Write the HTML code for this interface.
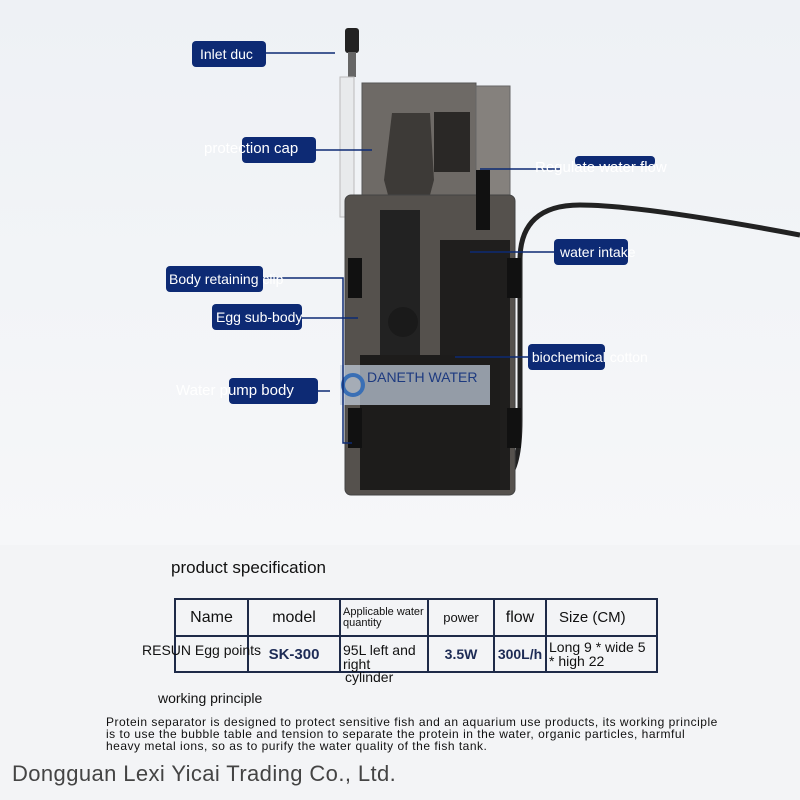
<!DOCTYPE html>
<html><head><style>
body{margin:0;width:800px;height:800px;overflow:hidden;background:#f3f4f6;font-family:"Liberation Sans",sans-serif;position:relative}
.a{position:absolute;white-space:nowrap}
.lb{position:absolute;background:#0d2a74;border-radius:4px;color:#fff;font-size:14px;line-height:26px;height:26px;white-space:nowrap}
td{border:2px solid #1e2a48;padding:0 2px;font-size:14px;color:#111;overflow:visible;white-space:nowrap}
</style></head><body>
<div class="a" style="left:0;top:0;width:800px;height:545px;background:linear-gradient(180deg,#eef1f5,#f6f7f9)"></div>
<svg class="a" style="left:0;top:0" width="800" height="545">
 <path d="M505 480 Q520 470 520 420 L520 260 Q520 205 580 205 Q640 205 800 235" fill="none" stroke="#222" stroke-width="5"/>
 <rect x="345" y="28" width="14" height="25" rx="3" fill="#222"/>
 <rect x="348" y="52" width="8" height="25" fill="#666"/>
 <rect x="340" y="77" width="14" height="140" fill="#e8eaec" stroke="#bbb"/>
 <rect x="362" y="83" width="114" height="112" fill="#6e6a66" stroke="#555"/>
 <rect x="476" y="86" width="34" height="109" fill="#85817d" stroke="#666"/>
 <path d="M392 113 L430 113 L434 180 L430 195 L388 195 L384 180 Z" fill="#3d3a37"/>
 <rect x="434" y="112" width="36" height="60" fill="#2a2826"/>
 <rect x="345" y="195" width="170" height="300" rx="6" fill="#55514d" stroke="#444"/>
 <rect x="380" y="210" width="40" height="150" fill="#222"/>
 <rect x="440" y="240" width="70" height="250" fill="#1f1e1d"/>
 <rect x="360" y="355" width="140" height="135" fill="#1d1c1b"/>
 <circle cx="403" cy="322" r="15" fill="#1a1a1a"/>
 <rect x="476" y="170" width="14" height="60" fill="#111"/>
 <rect x="348" y="258" width="14" height="40" fill="#111"/>
 <rect x="348" y="408" width="14" height="40" fill="#111"/>
 <rect x="507" y="258" width="14" height="40" fill="#111"/>
 <rect x="507" y="408" width="14" height="40" fill="#111"/>
 <rect x="340" y="365" width="150" height="40" fill="#c8d3e3" opacity=".7"/>
 <circle cx="353" cy="385" r="10" fill="none" stroke="#3a6fb5" stroke-width="4"/>
 <text x="367" y="382" font-size="14" fill="#1d3a80" font-family="Liberation Sans">DANETH WATER</text>
 <g stroke="#0d2a74" stroke-width="1.5" fill="none">
  <line x1="266" y1="53" x2="335" y2="53"/>
  <line x1="316" y1="150" x2="372" y2="150"/>
  <line x1="480" y1="169" x2="560" y2="169"/>
  <line x1="470" y1="252" x2="555" y2="252"/>
  <path d="M263 278 L343 278 L343 443 L352 443"/>
  <line x1="302" y1="318" x2="358" y2="318"/>
  <line x1="455" y1="357" x2="528" y2="357"/>
  <line x1="318" y1="391" x2="330" y2="391"/>
 </g>
</svg>
<div class="lb" style="left:192px;top:41px;width:74px;padding-left:8px;box-sizing:border-box">Inlet duc</div>
<div class="lb" style="left:242px;top:137px;width:74px"></div>
<div class="a" style="left:204px;top:140px;font-size:15px;color:#fff">protection cap</div>
<div class="lb" style="left:575px;top:156px;width:80px;height:10px"></div>
<div class="a" style="left:535px;top:159px;font-size:15px;color:#fff">Regulate water flow</div>
<div class="lb" style="left:554px;top:239px;width:74px;padding-left:6px;box-sizing:border-box">water intake</div>
<div class="lb" style="left:166px;top:266px;width:97px;padding-left:3px;box-sizing:border-box">Body retaining clip</div>
<div class="lb" style="left:212px;top:304px;width:90px;padding-left:4px;box-sizing:border-box">Egg sub-body</div>
<div class="lb" style="left:528px;top:344px;width:77px">&nbsp;biochemical cotton</div>
<div class="lb" style="left:229px;top:378px;width:89px"></div>
<div class="a" style="left:176px;top:382px;font-size:15px;color:#fff">Water pump body</div>

<div class="a" style="left:171px;top:558px;font-size:17px;color:#111">product specification</div>
<table class="a" style="left:174px;top:598px;border-collapse:collapse;table-layout:fixed;width:482px;height:75px">
<colgroup><col style="width:73px"><col style="width:92px"><col style="width:88px"><col style="width:66px"><col style="width:52px"><col style="width:111px"></colgroup>
<tr style="height:37px"><td style="text-align:center;font-size:16px">Name</td><td style="text-align:center;font-size:16px">model</td><td style="font-size:11px;line-height:11px;white-space:normal">Applicable water quantity</td><td style="font-size:13px;text-align:center">power</td><td style="font-size:16px;text-align:center">flow</td><td style="font-size:15px;padding-left:12px">Size (CM)</td></tr>
<tr><td></td><td style="font-weight:bold;font-size:15px;color:#1d2b55;text-align:center">SK-300</td><td style="font-size:14px;line-height:14px;vertical-align:top;padding-top:6px;white-space:normal">95L left and right</td><td style="font-weight:bold;text-align:center;color:#1d2b55">3.5W</td><td style="font-weight:bold;text-align:center;color:#1d2b55">300L/h</td><td style="line-height:14px;font-size:14px;white-space:normal">Long 9 * wide 5 * high 22</td></tr>
</table>
<div class="a" style="left:142px;top:642px;font-size:14px;color:#111">RESUN Egg points</div>
<div class="a" style="left:345px;top:669px;font-size:14px;color:#111">cylinder</div>
<div class="a" style="left:158px;top:690px;font-size:14px;color:#111">working principle</div>
<div class="a" style="left:106px;top:716px;font-size:12px;line-height:12px;color:#111;white-space:normal;width:612px;letter-spacing:0.5px">Protein separator is designed to protect sensitive fish and an aquarium use products, its working principle is to use the bubble table and tension to separate the protein in the water, organic particles, harmful heavy metal ions, so as to purify the water quality of the fish tank.</div>
<div class="a" style="left:12px;top:761px;font-size:22px;color:#444;letter-spacing:0.4px">Dongguan Lexi Yicai Trading Co., Ltd.</div>
</body></html>
